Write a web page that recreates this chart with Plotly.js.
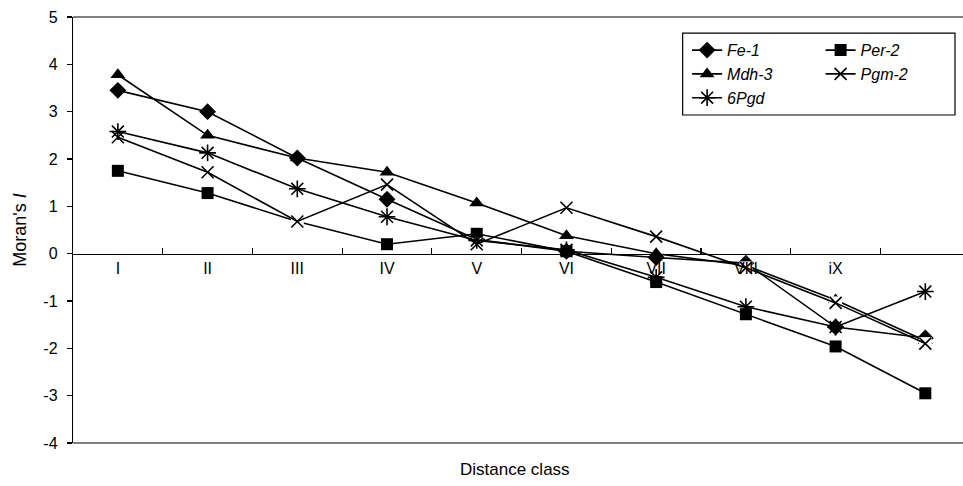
<!DOCTYPE html>
<html>
<head>
<meta charset="utf-8">
<script src="https://cdn.plot.ly/plotly-3.0.1.min.js"></script>
<style>html,body{margin:0;padding:0;background:#fff;}#chart{width:963px;height:486px;}</style>
</head>
<body>
<div id="chart"></div>
<script>
// Distance classes and tick labels
const categories = ['I','II','III','IV','V','VI','VII','VIII','IX','X'];
const tickLabels = ['I','II','III','IV','V','VI','VII','VIII','iX',''];
const yTickVals = [-4, -3, -2, -1, 0, 1, 2, 3, 4, 5];
const yTickText = ['-4', '-3', '-2', '-1', '0', '1', '2', '3', '4', '5'];

// Moran's I values per locus
const fe1  = [3.45, 3.00, 2.02, 1.15, 0.30, 0.05, -0.08, -0.20, -1.55, -1.78];
const per2 = [1.75, 1.28, 0.68, 0.20, 0.42, 0.05, -0.60, -1.28, -1.96, -2.95];
const mdh3 = [3.78, 2.50, 2.02, 1.72, 1.07, 0.38, 0.00, -0.25, -0.98, -1.84];
const pgm2 = [2.46, 1.72, 0.68, 1.46, 0.20, 0.97, 0.36, -0.30, -1.04, -1.90];
const pgd6 = [2.58, 2.13, 1.37, 0.78, 0.28, 0.08, -0.50, -1.12, -1.55, -0.80];

const yRange = [-4, 5];
const xRange = [-0.5, 9.42];

const LINE = {color: '#000', width: 1.6};
function tr(name, y, symbol, size, legend, extra) {
  return {
    type: 'scatter', mode: 'lines+markers', name: name,
    x: categories, y: y, legend: legend,
    line: LINE,
    marker: Object.assign({symbol: symbol, size: size, color: '#000'}, extra || {}),
    cliponaxis: false
  };
}

const data = [
  tr('Fe-1', fe1, 'diamond', 13, 'legend'),
  tr('Per-2', per2, 'square', 12, 'legend2'),
  tr('Mdh-3', mdh3, 'triangle-up', 13, 'legend'),
  {type:'scatter', mode:'markers', x: categories, y: pgm2, showlegend:false, hoverinfo:'skip',
   marker:{symbol:'square', size:13, color:'#fff'}},
  tr('Pgm-2', pgm2, 'x-thin-open', 12, 'legend2', {line:{color:'#000', width:1.6}}),
  tr('6Pgd', pgd6, 'asterisk-open', 14, 'legend', {line:{color:'#000', width:1.6}})
];

const FONT = 'Arial, "Liberation Sans", sans-serif';
const legendBase = {
  font: {family: FONT, size: 16, color: '#000', style: 'italic'},
  bgcolor: 'rgba(0,0,0,0)', borderwidth: 0,
  xanchor: 'left', yanchor: 'top', tracegroupgap: 6, orientation: 'v'
};

const layout = {
  width: 963, height: 486,
  margin: {l: 73, r: 0, t: 17, b: 43},
  paper_bgcolor: '#fff', plot_bgcolor: '#fff',
  font: {family: FONT, color: '#000', size: 15},
  showlegend: true,
  legend: Object.assign({}, legendBase, {x: 0.69, y: 0.962, traceorder: 'grouped'}),
  legend2: Object.assign({}, legendBase, {x: 0.84, y: 0.962, traceorder: 'grouped'}),
  xaxis: {
    type: 'category', range: xRange,
    anchor: 'free', position: (0 - yRange[0]) / (yRange[1] - yRange[0]),
    showline: true, linecolor: '#000', linewidth: 1.2,
    ticks: 'inside', tickson: 'boundaries', ticklen: 6, tickcolor: '#000', tickwidth: 1.2,
    tickvals: categories, ticktext: tickLabels,
    tickfont: {family: FONT, size: 16, color: '#000'},
    showgrid: false, zeroline: false, fixedrange: true
  },
  yaxis: {
    range: yRange, tickvals: yTickVals, ticktext: yTickText,
    showline: true, linecolor: '#000', linewidth: 1.2,
    ticks: 'outside', ticklen: 5, tickcolor: '#000', tickwidth: 1.2,
    ticklabelstandoff: 6,
    tickfont: {family: FONT, size: 16, color: '#000'},
    showgrid: false, zeroline: false,
    title: {text: "Moran's <i>I</i>", font: {family: FONT, size: 18, color: '#000'}, standoff: 12}
  },
  shapes: [
    {type:'line', xref:'paper', yref:'paper', x0:0, x1:1, y0:1, y1:1, line:{color:'#000', width:1.2}},
    {type:'line', xref:'paper', yref:'paper', x0:0, x1:1, y0:0, y1:0, line:{color:'#000', width:1.2}},
    {type:'rect', xref:'paper', yref:'paper', x0:0.685, x1:0.991, y0:0.770, y1:0.962, line:{color:'#000', width:1.2}, fillcolor:'rgba(0,0,0,0)'}
  ],
  annotations: [
    {text: 'Distance class', xref:'paper', yref:'paper', x:0.497, y:-0.063, xanchor:'center', yanchor:'middle',
     showarrow:false, font:{family: FONT, size: 17, color:'#000'}}
  ]
};

Plotly.newPlot('chart', data, layout, {displayModeBar: false, staticPlot: true});
</script>
</body>
</html>
